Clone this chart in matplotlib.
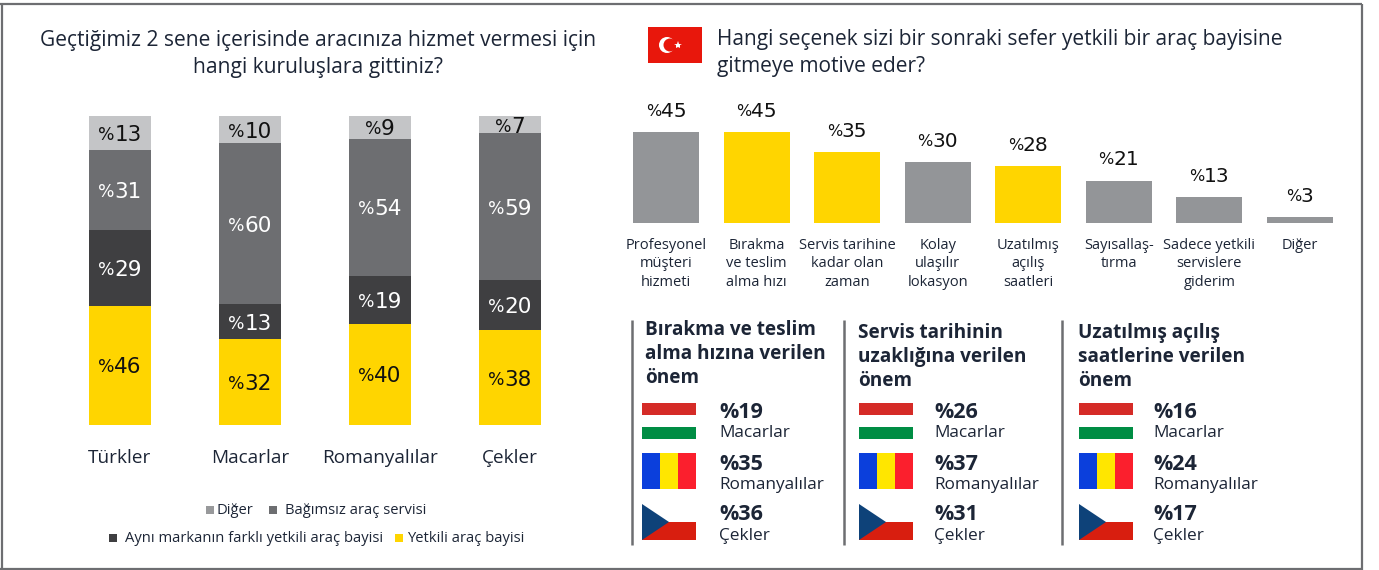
import matplotlib
matplotlib.use("Agg")
import matplotlib.pyplot as plt
from matplotlib.patches import Rectangle, Polygon, Circle

W, H = 1379, 570
FONT = ["Open Sans", "DejaVu Sans"]
plt.rcParams["font.family"] = FONT

TXT = "#1c2536"
YELLOW = "#ffd500"

# ── Data ────────────────────────────────────────────────────────────────────
groups = ["Türkler", "Macarlar", "Romanyalılar", "Çekler"]
yetkili = [46, 32, 40, 38]
ayni_marka = [29, 13, 19, 20]
bagimsiz = [31, 60, 54, 59]
diger = [13, 10, 9, 7]

stack_labels = ["Yetkili araç bayisi", "Aynı markanın farklı yetkili araç bayisi",
                "Bağımsız araç servisi", "Diğer"]
stack_colors = [YELLOW, "#3f3f41", "#6d6e71", "#c4c5c7"]
stack_text = ["#111111", "white", "white", "#111111"]

motive_cats = ["Profesyonel\nmüşteri\nhizmeti", "Bırakma\nve teslim\nalma hızı",
               "Servis tarihine\nkadar olan\nzaman", "Kolay\nulaşılır\nlokasyon",
               "Uzatılmış\naçılış\nsaatleri", "Sayısallaş-\ntırma",
               "Sadece yetkili\nservislere\ngiderim", "Diğer"]
motive_vals = [45, 45, 35, 30, 28, 21, 13, 3]
motive_hl = [False, True, True, False, True, False, False, False]

nations = ["Macarlar", "Romanyalılar", "Çekler"]
panel_titles = ["Bırakma ve teslim\nalma hızına verilen\nönem",
                "Servis tarihinin\nuzaklığına verilen\nönem",
                "Uzatılmış açılış\nsaatlerine verilen\nönem"]
panel_vals = [[19, 35, 36], [26, 37, 31], [16, 24, 17]]


def px_axes(fig, x0, y0, x1, y1):
    # axes placed by pixel box (y measured from the top of the image)
    return fig.add_axes([x0 / W, 1 - y1 / H, (x1 - x0) / W, (y1 - y0) / H])


def pct_label(ax, x, y, value, size, color, dy=0):
    # small % sign followed by wide digits, centred together on (x, y)
    small = size * 0.8
    digits = str(value)
    w_digits = len(digits) * 0.636 * size
    w_pct = 0.95 * small * 0.85 + 0.09 * size
    left = -(w_digits + w_pct) / 2
    ax.annotate("%", (x, y), xytext=(left, dy), textcoords="offset points",
                ha="left", va="center", fontsize=small, color=color,
                family="DejaVu Sans", annotation_clip=False)
    ax.annotate(digits, (x, y), xytext=(left + w_pct, dy), textcoords="offset points",
                ha="left", va="center", fontsize=size, color=color,
                family="DejaVu Sans", annotation_clip=False)


fig = plt.figure(figsize=(W / 100, H / 100), dpi=100, facecolor="white")

# Overlay in pixel coordinates for frame, headings and flags
ov = fig.add_axes([0, 0, 1, 1], zorder=5)
ov.set_xlim(0, W)
ov.set_ylim(H, 0)
ov.axis("off")
ov.patch.set_alpha(0)

# ── Left: stacked bars, each bar normalised to the same height ──────────────
ax = px_axes(fig, 55, 116, 575, 425)
series = [yetkili, ayni_marka, bagimsiz, diger]
totals = [sum(v) for v in zip(*series)]
bottoms = [0.0] * len(groups)
for vals, col, tcol in zip(series, stack_colors, stack_text):
    shares = [v / t for v, t in zip(vals, totals)]
    ax.bar(range(len(groups)), shares, width=0.482, bottom=bottoms, color=col)
    for i, (v, s) in enumerate(zip(vals, shares)):
        pct_label(ax, i, bottoms[i] + s / 2, v, 15.5, tcol, dy=-1.5)
    bottoms = [b + s for b, s in zip(bottoms, shares)]
ax.set_xlim(-0.5, 3.5)
ax.set_ylim(0, 1)
ax.set_xticks(range(len(groups)), groups)
ax.tick_params(axis="x", length=0, pad=17, labelsize=13.7, labelcolor=TXT)
ax.set_yticks([])
for s in ax.spines.values():
    s.set_visible(False)

ov.text(318, 54, "Geçtiğimiz 2 sene içerisinde aracınıza hizmet vermesi için\nhangi kuruluşlara gittiniz?",
        ha="center", va="center", fontsize=15.1, color=TXT, linespacing=1.33)

# legend, laid out by hand as in the original two centred rows
for x, tx, y, col, label in [(206, 217, 510, "#98999b", "Diğer"),
                             (269, 285, 510, stack_colors[2], stack_labels[2]),
                             (109, 125, 538, stack_colors[1], stack_labels[1]),
                             (395, 407, 538, stack_colors[0], stack_labels[0])]:
    ov.add_patch(Rectangle((x, y - 4), 8, 8, color=col, lw=0))
    ov.text(tx, y, label, ha="left", va="center", fontsize=10.6, color=TXT)

# ── Right: ranked bars ──────────────────────────────────────────────────────
ax2 = px_axes(fig, 621, 100, 1345, 223)
colors = [YELLOW if h else "#939598" for h in motive_hl]
xs = range(len(motive_vals))
ax2.bar(xs, motive_vals, width=0.73, color=colors)
for i, v in enumerate(motive_vals):
    pct_label(ax2, i, v + 10.2, v, 14.5, "#111111")
ax2.set_xlim(-0.5, 7.5)
ax2.set_ylim(0, 123 / 2.02)
ax2.set_xticks(list(xs), motive_cats)
ax2.tick_params(axis="x", length=0, pad=10.5, labelsize=10.5, labelcolor=TXT)
ax2.set_yticks([])
for s in ax2.spines.values():
    s.set_visible(False)
for lab in ax2.get_xticklabels():
    lab.set_linespacing(1.34)

ov.text(717, 53, "Hangi seçenek sizi bir sonraki sefer yetkili bir araç bayisine\ngitmeye motive eder?",
        ha="left", va="center", fontsize=15.05, color=TXT, linespacing=1.33)

# Turkish flag
ov.add_patch(Rectangle((648, 27), 54, 36, color="#e8170c", lw=0))
ov.add_patch(Circle((667, 45), 8, color="white", lw=0))
ov.add_patch(Circle((670, 45), 6.5, color="#e8170c", lw=0))
ov.plot([678], [45], marker="*", ms=6, color="white", mew=0)


def flag_hu(x, y):
    ov.add_patch(Rectangle((x, y), 54, 12, color="#d52b27", lw=0))
    ov.add_patch(Rectangle((x, y + 24), 54, 12, color="#008d44", lw=0))


def flag_ro(x, y):
    for k, c in enumerate(["#0b3fdc", "#ffe600", "#fb1f2d"]):
        ov.add_patch(Rectangle((x + k * 18, y), 18, 36, color=c, lw=0))


def flag_cz(x, y):
    ov.add_patch(Rectangle((x, y + 18), 54, 18, color="#d81e0f", lw=0))
    ov.add_patch(Polygon([(x, y), (x + 27, y + 18), (x, y + 36)], color="#0e4279", lw=0))


# ── Bottom right: three comparison panels ───────────────────────────────────
panel_x = [(632, 645, 642, 719), (844, 858, 859, 934), (1062, 1078, 1079, 1153)]
title_y = [354, 357, 357]
flags = [flag_hu, flag_ro, flag_cz]
flag_y = [403, 453, 504]
val_y = [413, 465, 515]
name_y = [433, 485, 536]
for (xl, xt, xf, xv), ty, title, vals in zip(panel_x, title_y, panel_titles, panel_vals):
    ov.plot([xl, xl], [320, 545], color="#6d6e71", lw=1.8, solid_capstyle="butt")
    ov.text(xt, ty, title, ha="left", va="center", fontsize=13.7, fontweight="bold",
            color=TXT, linespacing=1.27)
    for fn, fy, v, vy, nm, ny in zip(flags, flag_y, vals, val_y, nations, name_y):
        fn(xf, fy)
        ov.text(xv, vy, f"%{v}", ha="left", va="center", fontsize=15.5,
                fontweight="bold", color=TXT)
        ov.text(xv, ny, nm, ha="left", va="center", fontsize=12.4, color=TXT)

# outer frame: top, left, right and bottom rules
for xx, yy in [([0, 1362], [4, 4]), ([1.5, 1.5], [4, 570]), ([1362, 1362], [4, 570]),
               ([0, 1362], [568.5, 568.5])]:
    ov.plot(xx, yy, color="#6d6e71", lw=1.6, solid_capstyle="butt")

fig.savefig("out.png", dpi=100)
